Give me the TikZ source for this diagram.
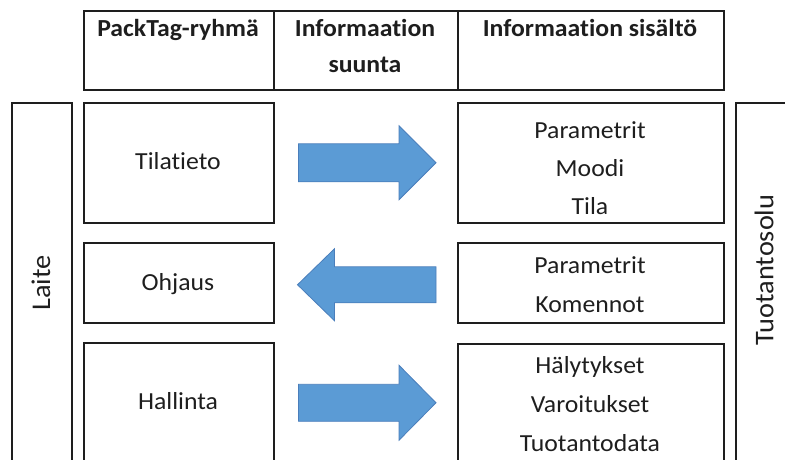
\documentclass[tikz,border=0pt]{standalone}
\usepackage{fontspec}
\setmainfont{Carlito}[FakeStretch=1.05, Ligatures=CommonOff]
\usetikzlibrary{calc}
\definecolor{arrowblue}{HTML}{5B9BD5}
\definecolor{arrowedge}{HTML}{4A7EBB}
\definecolor{ink}{HTML}{1E1E1E}

\begin{document}
\begin{tikzpicture}[x=1pt,y=-1pt,
  cell/.style={draw=ink, line width=1.5pt, rectangle, inner sep=0pt, anchor=north west},
  head/.style={font=\bfseries\fontsize{24.5}{30}\selectfont, anchor=base, inner sep=0pt, text=ink},
  entry/.style={font=\fontsize{24.5}{30}\selectfont, anchor=base, inner sep=0pt, text=ink},
  side/.style={font=\fontsize{27}{30}\selectfont, rotate=90, inner sep=0pt, text=ink},
  blockarrow/.style={fill=arrowblue, draw=arrowedge, line width=0.8pt, line join=miter}]
\useasboundingbox (0,0) rectangle (785,459);
\clip (0,0) rectangle (785,459);

% header row
\node[cell, minimum width=190, minimum height=79] (h1) at (83,10) {};
\node[cell, minimum width=184, minimum height=79] (h2) at (273,10) {};
\node[cell, minimum width=266, minimum height=79] (h3) at (457,10) {};
\node[head] (h1t) at (178,36) {PackTag-ryhmä};
\node[head] (h2t) at (365,36) {Informaation};
\node[head] (h2u) at (365,72) {suunta};
\node[head] (h3t) at (590,36) {Informaation sisältö};

% side bars
\node[cell, minimum width=60, minimum height=370] (laite) at (11,102) {};
\node[side] (laitet) at (41,283) {Laite};
\node[cell, minimum width=80, minimum height=370] (tuot) at (735,102) {};
\node[side] (tuott) at (764,270) {Tuotantosolu};

% PackTag groups
\node[cell, minimum width=190, minimum height=120] (tila) at (83,102) {};
\node[entry] (tilat) at (178,169) {Tilatieto};
\node[cell, minimum width=190, minimum height=80] (ohj) at (83,242) {};
\node[entry] (ohjt) at (178,290) {Ohjaus};
\node[cell, minimum width=190, minimum height=120] (hall) at (83,342) {};
\node[entry] (hallt) at (178,409) {Hallinta};

% information contents
\node[cell, minimum width=266, minimum height=120] (info1) at (457,102) {};
\node[entry] (i1a) at (590,138) {Parametrit};
\node[entry] (i1b) at (590,176) {Moodi};
\node[entry] (i1c) at (590,214) {Tila};
\node[cell, minimum width=266, minimum height=80] (info2) at (457,242) {};
\node[entry] (i2a) at (590,273) {Parametrit};
\node[entry] (i2b) at (590,312) {Komennot};
\node[cell, minimum width=266, minimum height=120] (info3) at (457,343) {};
\node[entry] (i3a) at (590,373) {Hälytykset};
\node[entry] (i3b) at (590,412) {Varoitukset};
\node[entry] (i3c) at (590,451) {Tuotantodata};

% direction arrows
\coordinate (a1t) at ($(tila.east)+(24,0)$);
\coordinate (a1h) at ($(info1.west)+(-21,0)$);
\filldraw[blockarrow] ($(a1t)+(0,-19)$) -- ($(a1h)+(-37,-19)$) -- ($(a1h)+(-37,-37)$)
  -- (a1h) -- ($(a1h)+(-37,37)$) -- ($(a1h)+(-37,19)$) -- ($(a1t)+(0,19)$) -- cycle;

\coordinate (a2t) at ($(info2.west)+(-21,2)$);
\coordinate (a2h) at ($(ohj.east)+(23,2)$);
\filldraw[blockarrow] ($(a2t)+(0,-18)$) -- ($(a2h)+(37,-18)$) -- ($(a2h)+(37,-36)$)
  -- (a2h) -- ($(a2h)+(37,36)$) -- ($(a2h)+(37,18)$) -- ($(a2t)+(0,18)$) -- cycle;

\coordinate (a3t) at ($(hall.east)+(24,0)$);
\coordinate (a3h) at ($(info3.west)+(-21,-1)$);
\filldraw[blockarrow] ($(a3t)+(0,-18.5)$) -- ($(a3h)+(-37,-18.5)$) -- ($(a3h)+(-37,-37.5)$)
  -- (a3h) -- ($(a3h)+(-37,37.5)$) -- ($(a3h)+(-37,18.5)$) -- ($(a3t)+(0,18.5)$) -- cycle;
\end{tikzpicture}
\end{document}
